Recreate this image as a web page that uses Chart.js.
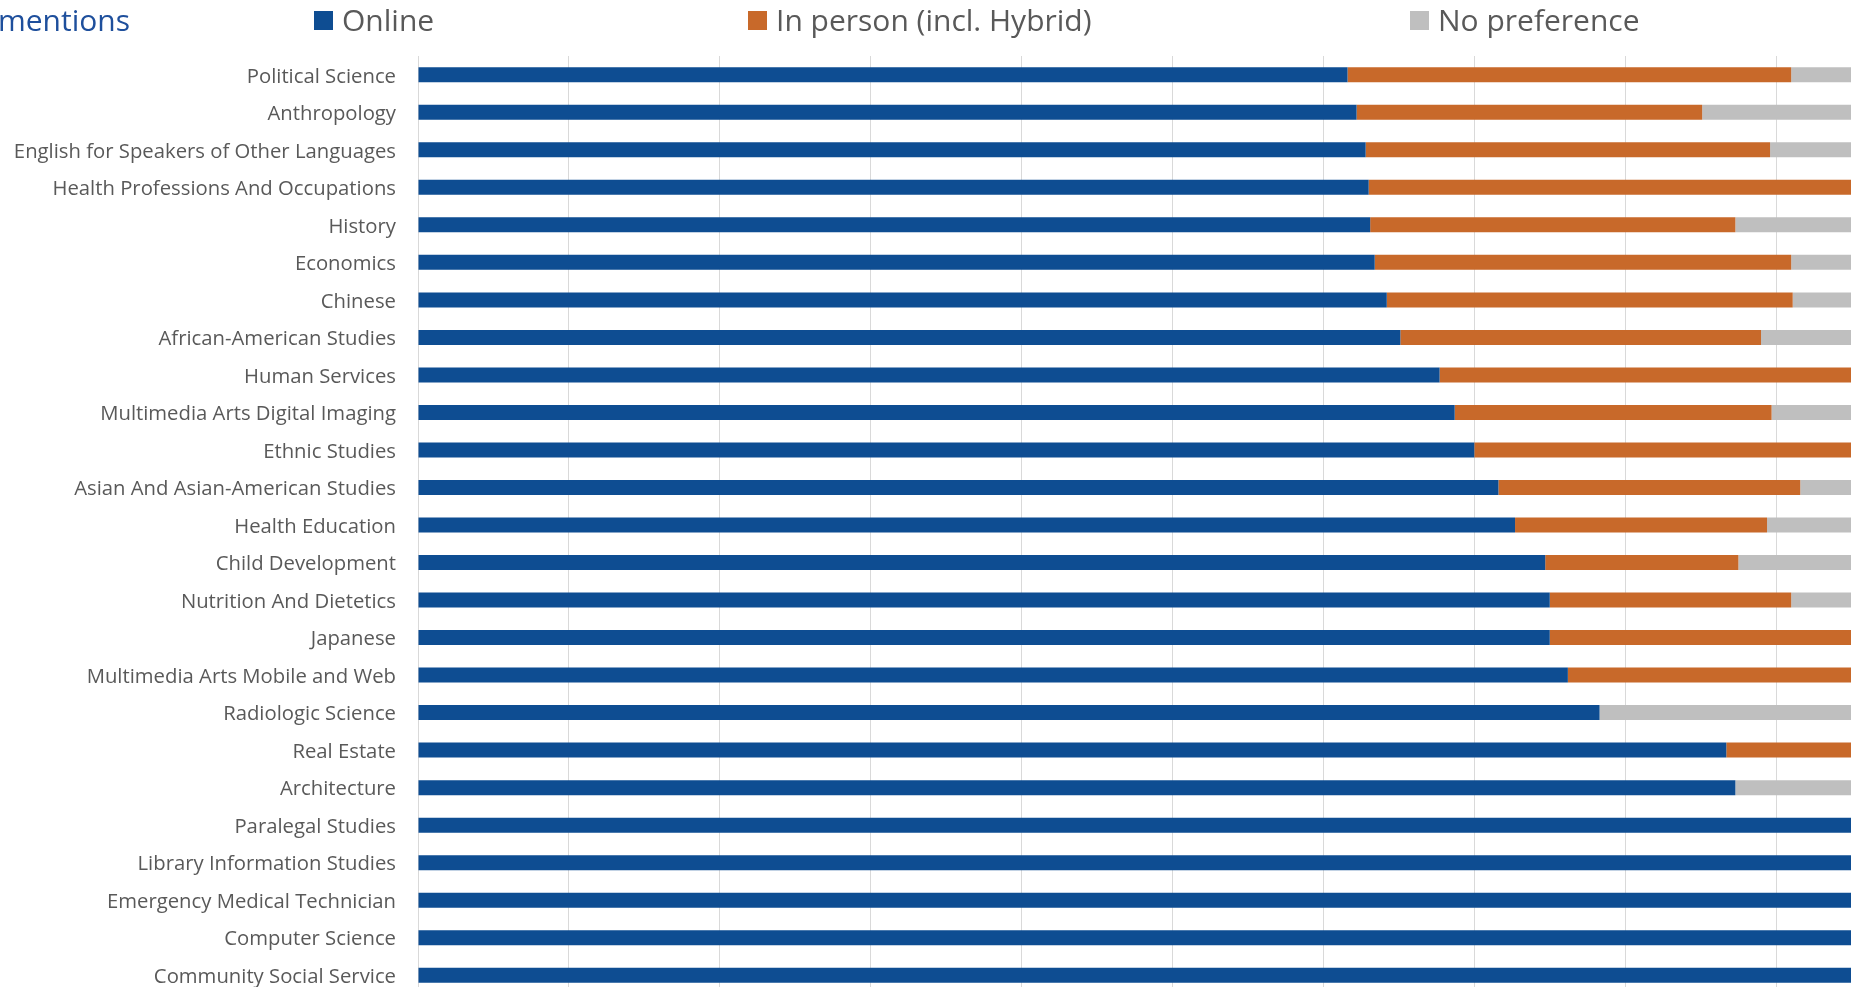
<!DOCTYPE html>
<html>
<head>
<meta charset="utf-8">
<title>mentions</title>
<script src="https://cdn.jsdelivr.net/npm/chart.js@4.4.1/dist/chart.umd.min.js"></script>
<style>
  html, body {
    margin: 0;
    padding: 0;
    background: #ffffff;
    overflow: hidden;
    width: 1851px;
    height: 987px;
  }
  #wrap {
    position: relative;
    width: 1851px;
    height: 987px;
    overflow: hidden;
  }
  #box {
    position: absolute;
    left: 0;
    top: 0;
    width: 1927px;
    height: 994px;
  }
  #title {
    position: absolute;
    left: -2px;
    top: 0;
    height: 40px;
    line-height: 40px;
    font-family: "Open Sans", sans-serif;
    font-size: 30px;
    color: #1e4f9c;
    white-space: nowrap;
  }
  #legend {
    position: absolute;
    left: 0;
    top: 0;
    width: 1851px;
    height: 40px;
    margin: 0;
    padding: 0;
    list-style: none;
  }
  #legend li {
    position: absolute;
    top: 0;
    display: flex;
    align-items: center;
    height: 40px;
    font-family: "Open Sans", sans-serif;
    font-size: 30px;
    line-height: 40px;
    color: #595959;
    white-space: nowrap;
  }
  #legend li span {
    display: inline-block;
    width: 19px;
    height: 19px;
    margin-right: 9px;
  }
</style>
</head>
<body>
<div id="wrap">
  <div id="box"><canvas id="chart"></canvas></div>
  <div id="title">mentions</div>
  <ul id="legend"></ul>
</div>
<script>
const categories = [
  "Political Science",
  "Anthropology",
  "English for Speakers of Other Languages",
  "Health Professions And Occupations",
  "History",
  "Economics",
  "Chinese",
  "African-American Studies",
  "Human Services",
  "Multimedia Arts Digital Imaging",
  "Ethnic Studies",
  "Asian And Asian-American Studies",
  "Health Education",
  "Child Development",
  "Nutrition And Dietetics",
  "Japanese",
  "Multimedia Arts Mobile and Web",
  "Radiologic Science",
  "Real Estate",
  "Architecture",
  "Paralegal Studies",
  "Library Information Studies",
  "Emergency Medical Technician",
  "Computer Science",
  "Community Social Service",
];

// share of mentions, in percent
const onlinePct = [61.6, 62.2, 62.8, 63.0, 63.1, 63.4, 64.2, 65.1, 67.7, 68.7, 70.0, 71.6, 72.7, 74.7, 75.0, 75.0, 76.2, 78.3, 86.7, 87.3, 100, 100, 100, 100, 100];
const inPersonPct = [29.4, 22.9, 26.8, 37.0, 24.2, 27.6, 26.9, 23.9, 32.3, 21.0, 30.0, 20.0, 16.7, 12.8, 16.0, 25.0, 23.8, 0, 13.3, 0, 0, 0, 0, 0, 0];
const noPrefPct = [9.0, 14.9, 10.4, 0, 12.7, 9.0, 8.9, 11.0, 0, 10.3, 0, 8.4, 10.6, 12.5, 9.0, 0, 0, 21.7, 0, 12.7, 0, 0, 0, 0, 0];

const seriesNames = ["Online", "In person (incl. Hybrid)", "No preference"];
const seriesColors = ["#0e4d92", "#c8692a", "#bfbfbf"];

const percentTicks = [0, 10, 20, 30, 40, 50, 60, 70, 80, 90, 100];

// legend items sit at fixed spots on the title row
const legendLeft = [314, 748, 1410];

const chartData = {
  labels: categories,
  datasets: [onlinePct, inPersonPct, noPrefPct].map((values, i) => ({
    label: seriesNames[i],
    data: values,
    backgroundColor: seriesColors[i],
    borderWidth: 0,
    barPercentage: 0.4,
    categoryPercentage: 1,
  })),
};

// legend shares the row with the title, so it is built as html
const htmlLegend = {
  id: "htmlLegend",
  afterUpdate(chart) {
    const list = document.getElementById("legend");
    list.innerHTML = "";
    const items = chart.options.plugins.legend.labels.generateLabels(chart);
    items.forEach((item, i) => {
      const li = document.createElement("li");
      li.style.left = legendLeft[i] + "px";
      const box = document.createElement("span");
      box.style.background = item.fillStyle;
      li.appendChild(box);
      li.appendChild(document.createTextNode(item.text));
      list.appendChild(li);
    });
  },
};

const ctx = document.getElementById("chart").getContext("2d");
new Chart(ctx, {
  type: "bar",
  data: chartData,
  plugins: [htmlLegend],
  options: {
    indexAxis: "y",
    responsive: true,
    maintainAspectRatio: false,
    animation: false,
    layout: {
      padding: { top: 56, left: 0, right: 0, bottom: 0 },
    },
    plugins: {
      legend: { display: false },
      title: { display: false },
      tooltip: { enabled: false },
    },
    scales: {
      x: {
        stacked: true,
        min: 0,
        max: 100,
        afterBuildTicks: (scale) => {
          scale.ticks = percentTicks.map((v) => ({ value: v }));
        },
        ticks: { display: false },
        grid: {
          color: "#d9d9d9",
          lineWidth: 1,
          drawTicks: false,
        },
        border: { display: false },
      },
      y: {
        stacked: true,
        afterFit: (scale) => {
          scale.width = 418;
          // the label padding would otherwise push the plot up from the bottom
          scale.paddingTop = 0;
          scale.paddingBottom = 0;
        },
        ticks: {
          padding: 22,
          labelOffset: 2,
          color: "#595959",
          font: { family: "'Open Sans', sans-serif", size: 20.3 },
        },
        grid: { display: false, drawTicks: false },
        border: { display: false },
      },
    },
  },
});
</script>
</body>
</html>
